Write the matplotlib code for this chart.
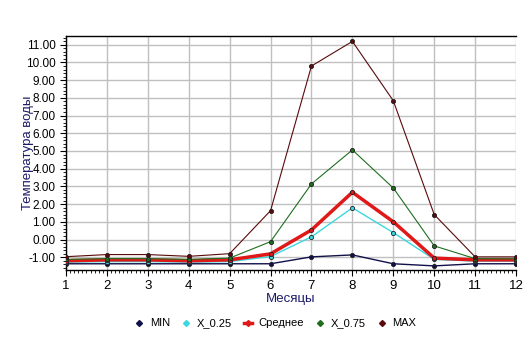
# Температура воды по месяцам: MIN, квантили, среднее, MAX.

import matplotlib
matplotlib.use("Agg")
import matplotlib.pyplot as plt
from matplotlib.lines import Line2D
from matplotlib.ticker import MultipleLocator, FormatStrFormatter

# Данные
MESYATSY = [1, 2, 3, 4, 5, 6, 7, 8, 9, 10, 11, 12]
T_MIN = [-1.37, -1.37, -1.37, -1.37, -1.37, -1.37, -0.98, -0.87, -1.37, -1.49, -1.37, -1.37]
T_X025 = [-1.28, -1.25, -1.25, -1.28, -1.25, -0.96, 0.15, 1.79, 0.39, -1.12, -1.22, -1.22]
T_SREDNEE = [-1.2, -1.15, -1.15, -1.2, -1.15, -0.81, 0.54, 2.67, 1.0, -1.05, -1.15, -1.15]
T_X075 = [-1.12, -1.08, -1.08, -1.12, -1.05, -0.12, 3.14, 5.06, 2.91, -0.36, -1.08, -1.1]
T_MAX = [-0.97, -0.85, -0.85, -0.95, -0.8, 1.63, 9.8, 11.19, 7.84, 1.41, -0.98, -0.98]

SERII = [
    ("MIN", T_MIN, "#10104a", 1.0),
    ("X_0.25", T_X025, "#3ad8e0", 1.0),
    ("Среднее", T_SREDNEE, "#e01818", 2.5),
    ("X_0.75", T_X075, "#1e6e1e", 0.8),
    ("MAX", T_MAX, "#5a0a0a", 0.8),
]

plt.rcParams["font.family"] = ["Liberation Sans", "DejaVu Sans"]
plt.rcParams["font.size"] = 8

figura = plt.figure(figsize=(5.32, 3.47), dpi=100)
eixo = figura.add_axes([0.124, 0.222, 0.846, 0.674])

marcadores = []
for rotulo, valores, cor, largura in SERII:
    eixo.plot(MESYATSY, valores, color=cor, linewidth=largura, marker="o",
              markersize=3, markerfacecolor=cor, markeredgecolor="#202020",
              markeredgewidth=0.6, zorder=3)
    # na legenda só o losango pequeno
    marcadores.append(Line2D([], [], color=cor, linewidth=largura if largura > 2 else 0,
                             marker="D", markersize=3, markerfacecolor=cor,
                             markeredgecolor=cor, label=rotulo))

eixo.set_xlim(1, 12)
eixo.set_ylim(-1.72, 11.49)
eixo.xaxis.set_major_locator(MultipleLocator(1))
eixo.xaxis.set_minor_locator(MultipleLocator(0.1))
eixo.yaxis.set_major_locator(MultipleLocator(1))
eixo.yaxis.set_minor_locator(MultipleLocator(0.2))
eixo.yaxis.set_major_formatter(FormatStrFormatter("%.2f"))
eixo.tick_params(axis="both", which="major", length=4, width=0.8)
eixo.tick_params(axis="y", which="major", labelsize=8.5)
eixo.tick_params(axis="x", which="major", labelsize=9.5, pad=3)
eixo.tick_params(axis="both", which="minor", length=2, width=0.6)

eixo.grid(True, which="major", color="#c0c0c0", linewidth=1.0, zorder=0)
eixo.spines["right"].set_visible(False)
for lado in ("top", "left", "bottom"):
    eixo.spines[lado].set_linewidth(1.0)

eixo.set_xlabel("Месяцы", color="#1a1a6a", fontsize=9.5, labelpad=1)
eixo.set_ylabel("Температура воды", color="#1a1a6a", fontsize=9.5, labelpad=-6)

figura.legend(handles=marcadores, loc="center", bbox_to_anchor=(0.518, 0.068),
              ncol=5, frameon=False, handlelength=0.7, handletextpad=0.6,
              columnspacing=1.1, fontsize=8)

figura.savefig("out.png", dpi=100)
plt.close(figura)
